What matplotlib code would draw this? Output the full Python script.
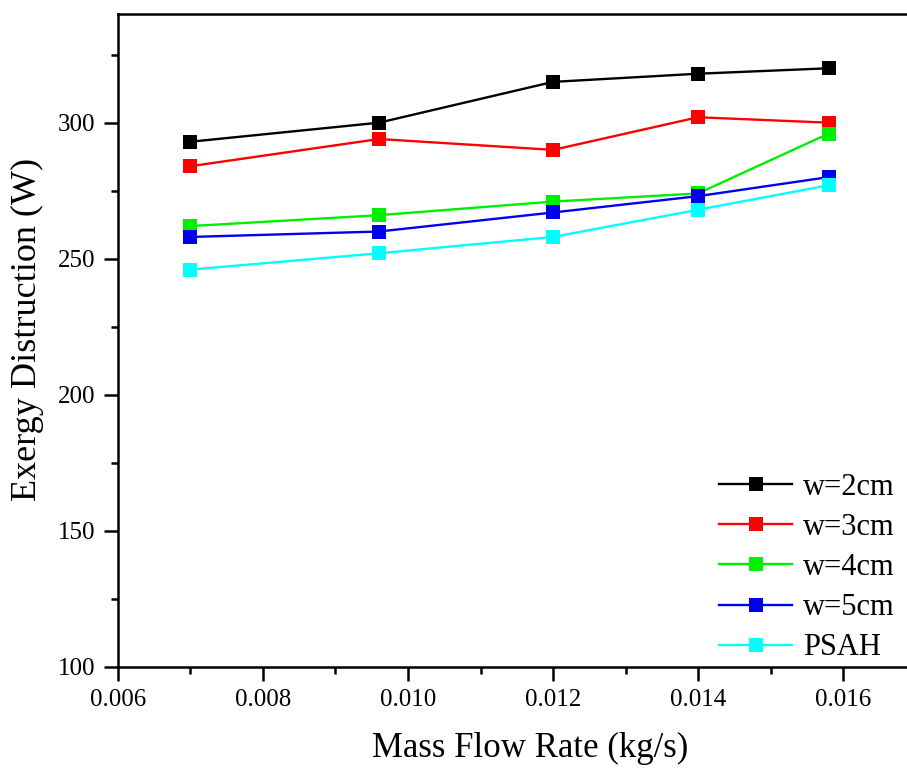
import numpy as np
import matplotlib
matplotlib.use("Agg")
import matplotlib.pyplot as plt
from matplotlib.ticker import MultipleLocator

plt.rcParams['font.family'] = ['Liberation Serif', 'DejaVu Serif']

mass_flow = [0.007, 0.0096, 0.012, 0.014, 0.0158]
w2 = [293, 300, 315, 318, 320]
w3 = [284, 294, 290, 302, 300]
w4 = [262, 266, 271, 274, 296]
w5 = [258, 260, 267, 273, 280]
psah = [246, 252, 258, 268, 277]

labels = ['w=2cm', 'w=3cm', 'w=4cm', 'w=5cm', 'PSAH']
colors = ['#000000', '#ff0000', '#00ee00', '#0000ee', '#00ffff']

fig = plt.figure(figsize=(9.07, 7.7), dpi=100)
ax = fig.add_axes([0.130, 0.134, 0.87, 0.848])

for ys, lab, c in zip([w2, w3, w4, w5, psah], labels, colors):
    ax.plot(mass_flow, ys, color=c, lw=1.7, marker='s', markersize=10.5,
            markeredgewidth=0, label=lab)

ax.set_xlim(0.006, 0.01688)
ax.set_ylim(100, 340)
ax.xaxis.set_major_locator(MultipleLocator(0.002))
ax.xaxis.set_minor_locator(MultipleLocator(0.001))
ax.yaxis.set_major_locator(MultipleLocator(50))
ax.yaxis.set_minor_locator(MultipleLocator(25))
ax.xaxis.set_major_formatter(matplotlib.ticker.FormatStrFormatter('%.3f'))

ax.tick_params(which='major', direction='out', length=10, width=1.8,
               labelsize=18, pad=6, top=False, right=False)
ax.tick_params(which='minor', direction='out', length=5, width=1.8,
               top=False, right=False)
ax.spines['right'].set_visible(False)
for s in ['left', 'bottom', 'top']:
    ax.spines[s].set_linewidth(1.8)

ax.set_xlabel('Mass Flow Rate (kg/s)', fontsize=25)
ax.set_ylabel('Exergy Distruction (W)', fontsize=26)
ax.xaxis.set_label_coords(0.523, -0.100)
ax.yaxis.set_label_coords(-0.094, 0.516)

ax.legend(loc='lower right', frameon=False, fontsize=22, handlelength=2.4,
          labelspacing=0.365, handletextpad=0.35, borderaxespad=0.0,
          bbox_to_anchor=(1.0, -0.012))

fig.savefig('out.png', dpi=100)
